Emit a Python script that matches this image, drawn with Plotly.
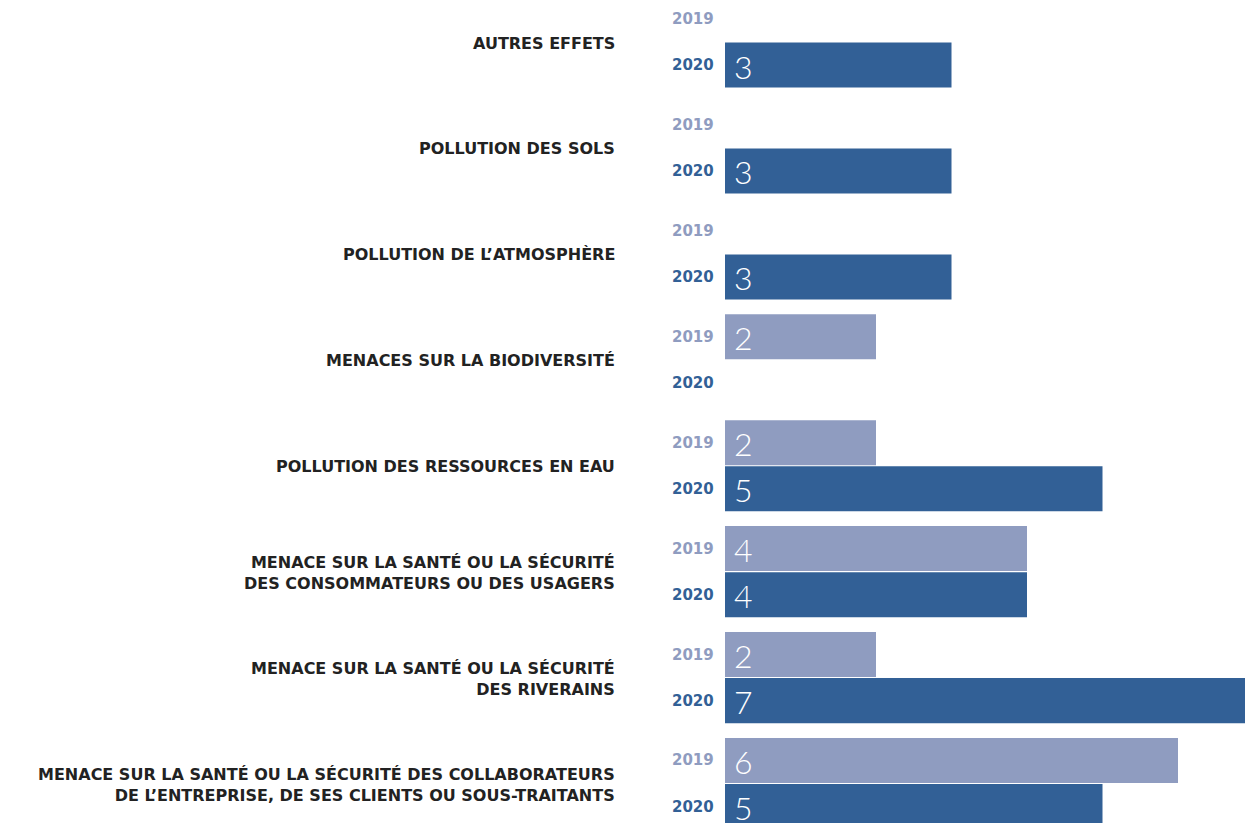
import plotly.graph_objects as go

categories = [
    "AUTRES EFFETS",
    "POLLUTION DES SOLS",
    "POLLUTION DE L’ATMOSPHÈRE",
    "MENACES SUR LA BIODIVERSITÉ",
    "POLLUTION DES RESSOURCES EN EAU",
    "MENACE SUR LA SANTÉ OU LA SÉCURITÉ<br>DES CONSOMMATEURS OU DES USAGERS",
    "MENACE SUR LA SANTÉ OU LA SÉCURITÉ<br>DES RIVERAINS",
    "MENACE SUR LA SANTÉ OU LA SÉCURITÉ DES COLLABORATEURS<br>DE L’ENTREPRISE, DE SES CLIENTS OU SOUS-TRAITANTS",
]
values_2019 = [None, None, None, 2, 2, 4, 2, 6]
values_2020 = [3, 3, 3, None, 5, 4, 7, 5]
years = ["2019", "2020"]

C19 = "#8f9cc0"
C20 = "#326096"
TXT = "#222222"
FONT = "DejaVu Sans"
VFONT = "Lato"

OFF = 0.2175
BW = 0.425

idx = list(range(len(categories)))
y19 = [i - OFF for i in idx]
y20 = [i + OFF for i in idx]

fig = go.Figure()
fig.add_trace(go.Bar(y=y19, x=[v if v else 0 for v in values_2019], orientation="h",
                     width=BW, marker=dict(color=C19, line=dict(width=0)),
                     hoverinfo="skip", showlegend=False))
fig.add_trace(go.Bar(y=y20, x=[v if v else 0 for v in values_2020], orientation="h",
                     width=BW, marker=dict(color=C20, line=dict(width=0)),
                     hoverinfo="skip", showlegend=False))

ann = []
for i, cat in enumerate(categories):
    ann.append(dict(x=0, y=i, xref="x", yref="y", text=f"<b>{cat}</b>", showarrow=False,
                    xanchor="right", yanchor="middle", align="right", xshift=-108, yshift=-1,
                    font=dict(family=FONT, size=16, color=TXT)))
    for yy, yr, col, vals in [(y19[i], years[0], C19, values_2019), (y20[i], years[1], C20, values_2020)]:
        ann.append(dict(x=0, y=yy, xref="x", yref="y", text=f"<b>{yr}</b>", showarrow=False,
                        xanchor="right", yanchor="middle", xshift=-9,
                        font=dict(family=FONT, size=15, color=col)))
        v = vals[i]
        if v:
            ann.append(dict(x=0, y=yy, xref="x", yref="y", text=str(v), showarrow=False,
                            xanchor="left", yanchor="middle", xshift=7, yshift=-1,
                            font=dict(family=VFONT, size=32, color="white", weight=300)))

W, H = 1245, 823
TOP = -42 / 105.93
fig.update_layout(
    width=W, height=H,
    margin=dict(l=725, r=0, t=0, b=0),
    paper_bgcolor="white", plot_bgcolor="white",
    barmode="overlay",
    xaxis=dict(range=[0, 520 / 75.5], visible=False, fixedrange=True),
    yaxis=dict(range=[TOP + H / 105.93, TOP], visible=False, fixedrange=True),
    annotations=ann,
)
fig.write_html(
    "out.html",
    config={"displayModeBar": False},
    post_script="document.body.style.margin='0';document.body.style.overflow='hidden';"
                "document.documentElement.style.overflow='hidden';",
)
